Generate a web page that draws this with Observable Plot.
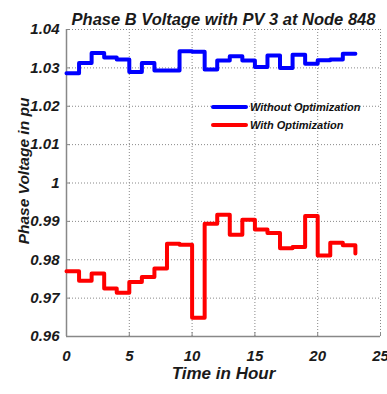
<!DOCTYPE html>
<html><head><meta charset="utf-8">
<script src="https://cdn.jsdelivr.net/npm/d3@7"></script>
<script src="https://cdn.jsdelivr.net/npm/@observablehq/plot@0.6"></script>
<style>
body{margin:0;background:#fff;}
#wrap{position:relative;width:387px;height:394px;font-family:"Liberation Sans",Arial,sans-serif;}
.leg{position:absolute;left:211px;display:flex;align-items:center;font-style:italic;font-weight:bold;font-size:11px;color:#111;white-space:nowrap;}
.leg span.sw{display:inline-block;width:37px;height:4px;border-radius:2px;margin-right:2px;}
</style>
</head><body><div id="wrap"></div>
<script>
const hours = [0,1,2,3,4,5,6,7,8,9,10,11,12,13,14,15,16,17,18,19,20,21,22,23];
const withoutOpt = [1.0286,1.0313,1.0339,1.0327,1.0322,1.0289,1.0313,1.0293,1.0293,1.0343,1.0342,1.0296,1.0319,1.0330,1.0319,1.0302,1.0332,1.0300,1.0334,1.0311,1.0320,1.0322,1.0337,1.0337];
const withOpt = [0.9770,0.9745,0.9764,0.9725,0.9714,0.9742,0.9755,0.9777,0.9842,0.9839,0.9649,0.9894,0.9917,0.9865,0.9904,0.9879,0.9870,0.9830,0.9833,0.9914,0.9811,0.9844,0.9838,0.9816];
const seriesNames = ["Without Optimization","With Optimization"];
const seriesColors = ["#0000ff","#ff0000"];
const xTicks = [0,5,10,15,20,25];
const yTicks = [0.96,0.97,0.98,0.99,1.00,1.01,1.02,1.03,1.04];
const yTickLabels = ["0.96","0.97","0.98","0.99","1","1.01","1.02","1.03","1.04"];
const title = "Phase B Voltage with PV 3 at Node 848";
const xLabel = "Time in Hour";
const yLabel = "Phase Voltage in pu";

const blue = hours.map((h,i)=>({h, v: withoutOpt[i]}));
const red = hours.map((h,i)=>({h, v: withOpt[i]}));

const gridStyle = {stroke:"#888", strokeOpacity:1, strokeDasharray:"1,2", strokeWidth:1};

const chart = Plot.plot({
  width: 387, height: 394,
  marginLeft: 66, marginRight: 7, marginTop: 29, marginBottom: 58,
  style: {fontFamily:'"Liberation Sans", Arial, sans-serif', fontSize:"15px", fontWeight:"bold", fontStyle:"italic", color:"#1a1a1a", background:"#fff"},
  x: {domain:[0,25]},
  y: {domain:[0.96,1.04]},
  marks: [
    Plot.gridX(xTicks, gridStyle),
    Plot.gridY(yTicks, gridStyle),
    Plot.ruleX([xTicks[0]], {stroke:"#888", strokeWidth:1.5}),
    Plot.ruleY([yTicks[0]], {stroke:"#888", strokeWidth:1.5}),
    Plot.axisX({ticks: xTicks, tickSize: -4, tickPadding: 18, stroke:"#888", label:null}),
    Plot.axisY({ticks: yTicks, tickSize: -4, tickPadding: 11, stroke:"#888", label:null, tickFormat: (d)=> yTickLabels[yTicks.findIndex(t=>Math.abs(t-d)<1e-9)]}),
    Plot.line(blue, {x:"h", y:"v", curve:"step-after", stroke:seriesColors[0], strokeWidth:4}),
    Plot.line(red, {x:"h", y:"v", curve:"step-after", stroke:seriesColors[1], strokeWidth:4}),
    Plot.text([title], {frameAnchor:"top", dy:-16, fontSize:16.5, fontWeight:"bold", fontStyle:"italic", fill:"#1a1a1a"}),
    Plot.text([xLabel], {frameAnchor:"bottom", dy:42, fontSize:17, fontWeight:"bold", fontStyle:"italic", fill:"#1a1a1a"}),
    Plot.text([yLabel], {frameAnchor:"left", textAnchor:"middle", rotate:-90, dx:-42, dy:-12, fontSize:15.5, fontWeight:"bold", fontStyle:"italic", fill:"#1a1a1a"})
  ]
});
const wrap = document.getElementById("wrap");
wrap.appendChild(chart);
const legTops = [101, 119];
seriesNames.forEach((name,i)=>{
  const d = document.createElement("div");
  d.className = "leg";
  d.style.top = legTops[i] + "px";
  const sw = document.createElement("span");
  sw.className = "sw";
  sw.style.background = seriesColors[i];
  d.appendChild(sw);
  d.appendChild(document.createTextNode(name));
  wrap.appendChild(d);
});
</script>
</body></html>
